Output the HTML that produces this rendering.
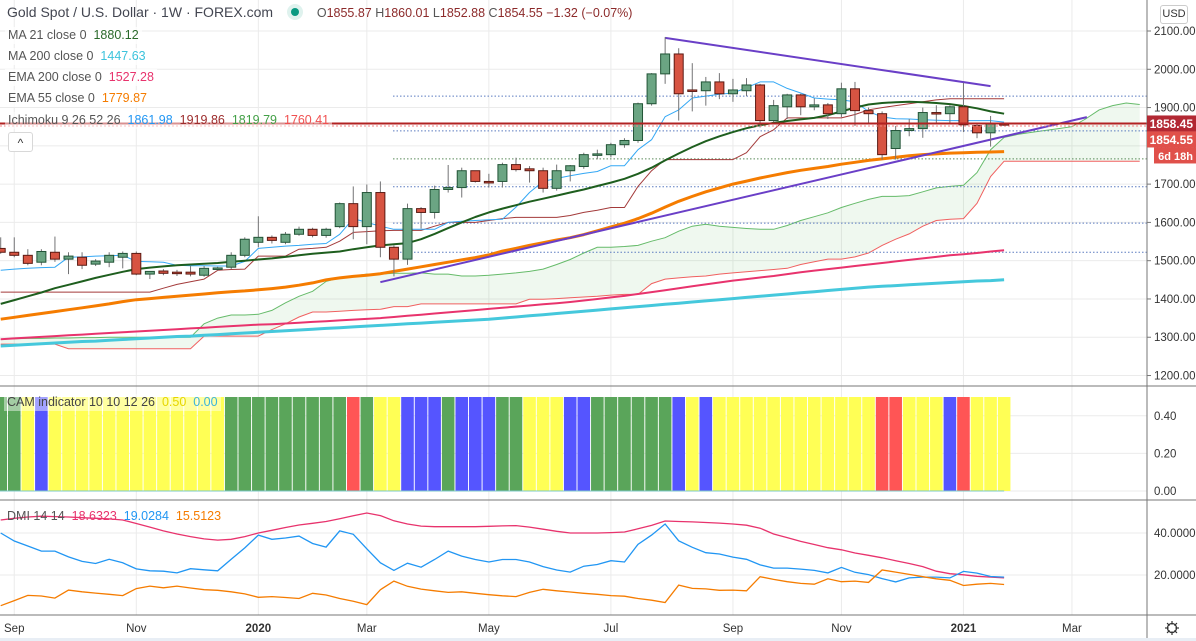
<!DOCTYPE html>
<html><head><meta charset="utf-8">
<style>
html,body{margin:0;padding:0;background:#fff;}
body{width:1196px;height:641px;overflow:hidden;position:relative;font-family:"Liberation Sans","DejaVu Sans",sans-serif;}
svg{position:absolute;left:0;top:0;}
.lg{position:absolute;font-size:12.5px;color:#555;white-space:nowrap;background:rgba(255,255,255,0.75);padding:0 3px;line-height:17px;}
.ax{font-size:11.5px;fill:#333;}
</style></head>
<body>
<svg id="c" width="1196" height="641" xmlns="http://www.w3.org/2000/svg"></svg>

<div class="lg" style="left:4px;top:4px;font-size:14px;color:#434651;background:none">Gold Spot / U.S. Dollar · 1W · FOREX.com
 <span style="display:inline-block;width:8px;height:8px;border-radius:50%;background:#089981;margin-left:14px;box-shadow:0 0 0 4px #dff2ee;vertical-align:1px"></span>
 <span style="font-size:12.5px;margin-left:14px;color:#555">O<span style="color:#8c2a2a">1855.87</span> H<span style="color:#8c2a2a">1860.01</span> L<span style="color:#8c2a2a">1852.88</span> C<span style="color:#8c2a2a">1854.55</span> <span style="color:#8c2a2a">−1.32 (−0.07%)</span></span></div>
<div class="lg" style="left:5px;top:27px">MA 21 close 0 &nbsp;<span style="color:#2b6a2b">1880.12</span></div>
<div class="lg" style="left:5px;top:48px">MA 200 close 0 &nbsp;<span style="color:#3cc3dc">1447.63</span></div>
<div class="lg" style="left:5px;top:69px">EMA 200 close 0 &nbsp;<span style="color:#e8336d">1527.28</span></div>
<div class="lg" style="left:5px;top:90px">EMA 55 close 0 &nbsp;<span style="color:#f57c00">1779.87</span></div>
<div class="lg" style="left:5px;top:112px;background:rgba(255,255,255,0.5)">Ichimoku 9 26 52 26 &nbsp;<span style="color:#2196f3">1861.98</span> &nbsp;<span style="color:#9c2b2b">1919.86</span> &nbsp;<span style="color:#43a047">1819.79</span> &nbsp;<span style="color:#f05050">1760.41</span></div>
<div style="position:absolute;left:8px;top:132px;width:23px;height:18px;border:1px solid #d8d8d8;border-radius:3px;background:#fff;font-size:12px;text-align:center;line-height:20px;color:#333">^</div>
<div class="lg" style="left:4px;top:394px;background:rgba(255,255,255,0.45);color:#444">CAM indicator 10 10 12 26 &nbsp;<span style="color:#e6d600">0.50</span> &nbsp;<span style="color:#3cb4dc">0.00</span></div>
<div class="lg" style="left:4px;top:508px;background:none;color:#555">DMI 14 14 &nbsp;<span style="color:#e8336d">18.6323</span> &nbsp;<span style="color:#2196f3">19.0284</span> &nbsp;<span style="color:#f57c00">15.5123</span></div>
<div style="position:absolute;left:1160px;top:5px;width:26px;height:17px;border:1px solid #ccc;border-radius:3px;font-size:11px;text-align:center;line-height:17px;color:#333;background:#fff">USD</div>

<script>
// ---- data ----
const opens=[1532,1522,1514,1496,1522,1504,1509,1491,1496,1509,1519,1465,1473,1470,1470,1462,1478,1483,1514,1548,1561,1548,1569,1582,1566,1589,1649,1589,1678,1535,1504,1636,1626,1686,1691,1735,1707,1707,1751,1740,1735,1689,1735,1746,1777,1777,1803,1814,1910,1988,2040,1946,1944,1967,1936,1944,1959,1866,1902,1933,1902,1907,1884,1949,1892,1884,1793,1840,1845,1887,1884,1902,1853,1834,1858];
const highs=[1561,1561,1530,1530,1563,1522,1522,1504,1522,1524,1524,1472,1478,1476,1486,1486,1484,1522,1561,1616,1566,1575,1589,1586,1586,1652,1694,1699,1707,1540,1649,1640,1696,1750,1743,1735,1727,1756,1769,1747,1743,1751,1750,1782,1790,1808,1820,1913,1990,2084,2055,2016,1980,1990,1975,1977,1962,1920,1936,1936,1924,1912,1965,1967,1900,1890,1852,1870,1900,1906,1906,1965,1860,1878,1861];
const lows=[1518,1509,1488,1488,1497,1465,1478,1486,1483,1480,1462,1452,1462,1460,1459,1458,1474,1478,1509,1535,1545,1543,1565,1561,1560,1585,1556,1543,1509,1459,1489,1584,1610,1678,1665,1704,1691,1691,1733,1704,1678,1683,1707,1740,1765,1770,1795,1808,1905,1962,1866,1890,1905,1922,1915,1930,1848,1862,1870,1880,1893,1870,1875,1852,1858,1764,1764,1825,1821,1858,1860,1836,1820,1798,1852];
const closes=[1522,1514,1493,1524,1504,1512,1488,1499,1514,1519,1465,1472,1467,1467,1465,1480,1481,1514,1556,1561,1553,1569,1582,1566,1582,1649,1589,1678,1535,1504,1636,1626,1686,1691,1735,1707,1704,1751,1738,1735,1689,1735,1748,1777,1779,1803,1814,1910,1988,2040,1936,1944,1967,1936,1946,1959,1866,1905,1933,1902,1907,1884,1949,1892,1884,1777,1840,1845,1887,1884,1902,1855,1834,1858,1855];
const ma21=[1387,1397,1407,1417,1428,1437,1446,1455,1463,1471,1478,1482,1485,1488,1490,1492,1494,1497,1500,1503,1506,1510,1514,1518,1521,1524,1530,1535,1540,1543,1546,1556,1570,1585,1600,1614,1626,1636,1645,1654,1662,1670,1678,1686,1695,1704,1714,1727,1743,1762,1780,1797,1812,1825,1836,1846,1854,1860,1865,1869,1873,1880,1890,1900,1908,1912,1914,1915,1914,1912,1909,1904,1898,1890,1884];
const ma200=[1277,1279,1281,1283,1285,1287,1289,1290,1292,1294,1296,1298,1300,1302,1303,1305,1307,1309,1311,1313,1315,1317,1319,1321,1323,1325,1327,1329,1331,1333,1335,1337,1339,1341,1343,1345,1347,1350,1353,1356,1359,1362,1365,1368,1371,1374,1377,1380,1383,1386,1389,1392,1395,1398,1401,1404,1407,1410,1413,1416,1419,1422,1425,1428,1431,1433,1435,1437,1439,1441,1443,1445,1447,1448,1450];
const ema200=[1295,1297,1299,1301,1303,1305,1307,1309,1311,1313,1315,1317,1319,1321,1323,1325,1327,1329,1331,1333,1334,1336,1338,1340,1342,1344,1346,1348,1350,1353,1356,1359,1362,1365,1368,1371,1374,1377,1380,1383,1386,1389,1392,1396,1400,1404,1408,1413,1418,1423,1428,1433,1438,1443,1448,1452,1456,1460,1465,1470,1474,1478,1482,1486,1490,1494,1498,1502,1506,1510,1514,1517,1520,1524,1527];
const ema55=[1347,1352,1357,1362,1367,1372,1377,1382,1387,1393,1398,1401,1404,1407,1410,1413,1416,1419,1421,1424,1427,1431,1436,1442,1450,1455,1459,1462,1466,1472,1478,1484,1490,1496,1502,1508,1515,1525,1532,1540,1547,1554,1560,1568,1578,1588,1598,1610,1624,1640,1655,1668,1680,1690,1700,1708,1716,1723,1730,1736,1741,1746,1752,1757,1762,1766,1770,1774,1777,1779,1781,1782,1783,1784,1785];
const tenkan=[1475,1478,1480,1482,1483,1509,1510,1512,1513,1514,1498,1497,1496,1488,1487,1487,1486,1486,1498,1532,1535,1538,1540,1543,1545,1569,1610,1600,1590,1582,1582,1582,1582,1600,1603,1605,1607,1608,1640,1678,1707,1715,1722,1728,1733,1748,1748,1790,1816,1876,1894,1925,1930,1935,1938,1952,1967,1967,1950,1938,1925,1922,1920,1915,1890,1875,1871,1870,1868,1867,1866,1866,1866,1866,1862];
const kijun=[1418,1418,1418,1418,1418,1418,1418,1418,1418,1418,1418,1418,1428,1438,1445,1452,1475,1477,1478,1512,1512,1512,1530,1532,1535,1551,1574,1576,1578,1579,1579,1579,1590,1600,1600,1600,1605,1610,1613,1613,1613,1613,1618,1626,1632,1639,1639,1694,1735,1764,1764,1764,1764,1764,1764,1782,1824,1842,1873,1873,1873,1873,1873,1882,1894,1900,1905,1910,1915,1920,1923,1923,1923,1923,1923];
const spanA=[1295,1296,1297,1297,1298,1298,1299,1299,1300,1300,1300,1300,1300,1300,1300,1335,1350,1358,1358,1360,1370,1390,1407,1420,1446,1455,1460,1465,1465,1467,1467,1468,1465,1465,1460,1460,1462,1465,1468,1472,1478,1490,1503,1520,1535,1535,1537,1540,1551,1560,1577,1590,1595,1590,1587,1584,1582,1582,1592,1605,1615,1625,1639,1650,1660,1668,1668,1670,1680,1690,1694,1697,1730,1790,1822,1830,1835,1840,1845,1850,1870,1894,1905,1912,1908];
const spanB=[1282,1282,1282,1282,1282,1270,1270,1270,1270,1270,1270,1270,1270,1270,1270,1303,1303,1303,1303,1303,1320,1335,1353,1366,1366,1368,1370,1372,1373,1380,1380,1387,1387,1387,1387,1387,1387,1387,1387,1399,1399,1401,1403,1405,1407,1410,1412,1412,1440,1452,1455,1458,1460,1465,1468,1471,1474,1477,1480,1490,1497,1504,1504,1510,1520,1540,1556,1570,1590,1605,1608,1610,1650,1720,1760,1760,1760,1760,1760,1760,1760,1760,1760,1760,1760];
const levels=[1930,1839,1766,1693,1598,1522];
const camColors=['G','G','Y','B','Y','Y','Y','Y','Y','Y','Y','Y','Y','Y','Y','Y','Y','G','G','G','G','G','G','G','G','G','R','G','Y','Y','B','B','B','G','B','B','B','G','G','Y','Y','Y','B','B','G','G','G','G','G','G','B','Y','B','Y','Y','Y','Y','Y','Y','Y','Y','Y','Y','Y','Y','R','R','Y','Y','Y','B','R','Y','Y','Y'];
const camValue=0.5;
const adx=[46.2,47,47.6,48,47.8,47.6,47.3,47,46.7,46.2,44.5,42.8,41,39.5,38.3,37.2,36.6,37,38.3,40,41.3,42.6,43.8,44.6,45.5,46.8,48.2,49.5,48.3,45.8,44.3,43.3,43,43,43,43,43.2,43.4,43.5,42.8,41.8,40.8,40,40,40,40.2,40.5,42,43.6,45.7,45.5,45.3,45,44.7,44.3,43.7,42.3,39.5,37.8,36,34.5,33,32,30.5,29.4,28.2,26.8,25.5,24,21.8,20.6,20.1,19.4,19,18.6];
const diPlus=[40,36.2,33.8,31.4,31.4,28.6,26.5,25.5,27.5,25.8,22.9,22,21.8,21,23,22.5,22,27.5,32.9,39,37,37.6,38.5,35,33.3,41,39.4,32.5,25.8,22.2,25.6,23.7,27.4,31.4,29,27.4,26.2,27.4,27.4,26.2,24,22.4,21.4,24.2,25,26.8,26.2,34.6,39,44.3,36.3,33.2,30.6,30,28.5,27.5,24.8,23.3,23.3,22.8,22.2,21,23.6,21.3,20.2,18.3,16.7,18.6,19,19,18.6,21.7,20.9,19.3,19];
const diMinus=[5.4,7.8,10.3,10,9,12.8,12,11.4,10.8,10.2,13.5,14.7,13.9,14.7,13.8,13,12.7,12,11,9.4,9.7,9.3,8.8,11.3,10.5,8.8,7.5,5.9,13,17.1,14.6,13.3,12.5,11.7,12,11.3,10.6,10.1,9.7,11.7,13.2,12.5,11.9,11.3,10.8,10.2,9.9,8.8,8,6.9,15.2,13.6,13.4,12.7,12.8,12.5,19.2,17.9,16.8,16,15.6,18.2,16.8,17.1,16.5,22.4,21.4,20.3,19.2,18.2,17.5,15,15.6,16,15.5];
const priceTicks=[2100,2000,1900,1800,1700,1600,1500,1400,1300,1200];
const camTicks=[0.4,0.2,0];
const dmiTicks=[40,20];
const timeLabels=['Sep','Nov','2020','Mar','May','Jul','Sep','Nov','2021','Mar'];
const timeIdx=[1,10,19,27,36,45,54,62,71,79];

// ---- scales ----
const X=i=>0.7+13.56*i;
const Y=p=>31+(2100-p)*0.3828;
const YC=v=>491-v*188;
const YD=v=>575-(v-20)*2.1;
const NS='http://www.w3.org/2000/svg';
const svg=document.getElementById('c');
function mk(tag,attrs,parent){const e=document.createElementNS(NS,tag);for(const k in attrs)e.setAttribute(k,attrs[k]);(parent||svg).appendChild(e);return e;}
function pts(arr,yf){return arr.map((v,i)=>X(i).toFixed(1)+','+yf(v).toFixed(1)).join(' ');}

// grid
const grid=mk('g',{});


timeIdx.forEach(i=>{mk('line',{x1:X(i),x2:X(i),y1:0,y2:615,stroke:'#ebebeb','stroke-width':1},grid);});
priceTicks.forEach(p=>{mk('line',{x1:0,x2:1147,y1:Y(p),y2:Y(p),stroke:'#ebebeb'},grid);});
camTicks.forEach(v=>{mk('line',{x1:0,x2:1147,y1:YC(v),y2:YC(v),stroke:'#ebebeb'},grid);});
dmiTicks.forEach(v=>{mk('line',{x1:0,x2:1147,y1:YD(v),y2:YD(v),stroke:'#ebebeb'},grid);});

// cloud
const cloud=mk('polygon',{points:pts(spanA,Y)+' '+spanB.map((v,i)=>X(i).toFixed(1)+','+Y(v).toFixed(1)).reverse().join(' '),fill:'rgba(76,175,80,0.09)'});


const sa=mk('polyline',{points:pts(spanA,Y),fill:'none',stroke:'#66bb6a','stroke-width':1});


const sb=mk('polyline',{points:pts(spanB,Y),fill:'none',stroke:'#f06060','stroke-width':1});



// levels
levels.forEach((p,k)=>{const l=mk('line',{x1:393,x2:1147,y1:Y(p),y2:Y(p),stroke:k==2?'#5a8a5a':'#5b7bc0','stroke-width':1,'stroke-dasharray':'1.5,2'});

});

function line(arr,col,w,name){const e=mk('polyline',{points:pts(arr,Y),fill:'none',stroke:col,'stroke-width':w,'stroke-linejoin':'round'});

}
line(ma200,'#45c8dc',3,'ma200-line');
line(ema200,'#e8336d',2,'ema200-line');
line(ema55,'#f57c00',3,'ema55-line');
line(kijun,'#a33a3a',1,'ichimoku-base-line');
line(tenkan,'#34a8f5',1,'ichimoku-conversion-line');
line(ma21,'#1e5e1e',2,'ma21-line');

// trend lines
const t1=mk('line',{x1:X(49),y1:Y(2082),x2:X(73),y2:Y(1956),stroke:'#6a3fc7','stroke-width':2});


const t2=mk('line',{x1:X(28),y1:Y(1444),x2:X(80.1),y2:Y(1875),stroke:'#6a3fc7','stroke-width':2});



// candles
for(let i=0;i<opens.length;i++){
 const o=opens[i],c=closes[i],up=c>=o,x=X(i);
 const g=mk('g',{});
 
 
 mk('line',{x1:x,x2:x,y1:Y(highs[i]),y2:Y(lows[i]),stroke:'#737375','stroke-width':1},g);
 const top=Y(Math.max(o,c)),h=Math.max(1.5,Y(Math.min(o,c))-top);
 mk('rect',{x:x-4.5,y:top,width:9,height:h,fill:up?'#6ba583':'#d75442',stroke:up?'#225437':'#5b1a13','stroke-width':1},g);
}

// current price line
const pl=mk('line',{x1:0,x2:1147,y1:Y(1858.45),y2:Y(1858.45),stroke:'#b22222','stroke-width':2});


mk('line',{x1:0,x2:1147,y1:Y(1854.55)+1,y2:Y(1854.55)+1,stroke:'#f08080','stroke-width':1,'stroke-dasharray':'2,2'});

// CAM bars
const camCol={G:'#5aa55a',Y:'#ffff55',B:'#5555ff',R:'#ff5555'};
camColors.forEach((c,i)=>{const r=mk('rect',{x:X(i)-6.3,y:YC(camValue),width:12.6,height:YC(0)-YC(camValue),fill:camCol[c]});

});
mk('line',{x1:0,x2:X(74),y1:YC(0),y2:YC(0),stroke:'#7ec8c8','stroke-width':1});

// DMI
function dl(arr,col,name){const e=mk('polyline',{points:pts(arr,YD),fill:'none',stroke:col,'stroke-width':1.3});

}
dl(adx,'#e8336d','dmi-adx-line');
dl(diPlus,'#2196f3','dmi-plus-line');
dl(diMinus,'#f57c00','dmi-minus-line');

// separators / axes
mk('line',{x1:0,x2:1196,y1:386,y2:386,stroke:'#777','stroke-width':1});
mk('line',{x1:0,x2:1196,y1:500,y2:500,stroke:'#777','stroke-width':1});
mk('line',{x1:0,x2:1196,y1:615,y2:615,stroke:'#777','stroke-width':1});
mk('line',{x1:1147,x2:1147,y1:0,y2:641,stroke:'#777','stroke-width':1});
mk('rect',{x:0,y:638,width:1196,height:3,fill:'#e8eef5'});

priceTicks.forEach(p=>{mk('line',{x1:1147,x2:1151,y1:Y(p),y2:Y(p),stroke:'#777'});
const t=mk('text',{x:1154,y:Y(p)+4,class:'ax'});t.textContent=p.toFixed(2);

});
camTicks.forEach(v=>{const t=mk('text',{x:1154,y:YC(v)+4,class:'ax'});t.textContent=v.toFixed(2);

});
dmiTicks.forEach(v=>{const t=mk('text',{x:1154,y:YD(v)+4,class:'ax'});t.textContent=v.toFixed(4);

});
timeLabels.forEach((s,k)=>{const t=mk('text',{x:X(timeIdx[k]),y:632,class:'ax','text-anchor':'middle','font-weight':s.length==4?'bold':'normal'});t.textContent=s;

});

// price labels
function tag(y,txt,bg,name,x,fs){const g=mk('g',{});


mk('rect',{x:x||1147,y:y-8,width:1196-(x||1147),height:16,fill:bg},g);
const t=mk('text',{x:1193,y:y+4.5,'text-anchor':'end','font-size':fs||12,'font-weight':'bold',fill:'#fff'},g);t.textContent=txt;}
tag(Y(1858.45),'1858.45','#b22833','last-price-label');
tag(Y(1858.45)+16,'1854.55','#e0504a','close-price-label');
tag(Y(1858.45)+32,'6d 18h','#e0504a','countdown-label',1154,11);

// gear
const gear=mk('g',{});


mk('circle',{cx:1172,cy:628,r:4.5,fill:'none',stroke:'#333','stroke-width':1.3},gear);
[0,45,90,135].forEach(a=>{const r=a*Math.PI/180;mk('line',{x1:1172+Math.cos(r)*7,y1:628+Math.sin(r)*7,x2:1172-Math.cos(r)*7,y2:628-Math.sin(r)*7,stroke:'#333','stroke-width':1.2},gear);});
mk('circle',{cx:1172,cy:628,r:3.5,fill:'#fff'},gear);
</script>
</body></html>
